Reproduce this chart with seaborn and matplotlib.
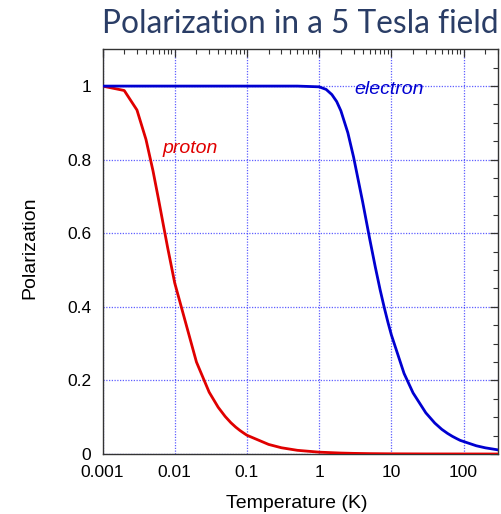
import numpy as np
import pandas as pd
import matplotlib
matplotlib.use("Agg")
import matplotlib.pyplot as plt
import seaborn as sns
from matplotlib.ticker import FixedLocator, NullFormatter, LogLocator

# ---- data ----
proton_T = [0.001, 0.002, 0.003, 0.004, 0.005, 0.006, 0.007, 0.008, 0.009,
            0.01, 0.02, 0.03, 0.04, 0.05, 0.06, 0.07, 0.08, 0.09,
            0.1, 0.2, 0.3, 0.5, 1, 2, 3, 5, 10, 30, 100, 300]
proton_P = [1.00, 0.988, 0.935, 0.855, 0.77, 0.69, 0.62, 0.56, 0.51,
            0.465, 0.25, 0.168, 0.127, 0.102, 0.085, 0.073, 0.064, 0.057,
            0.051, 0.026, 0.017, 0.010, 0.005, 0.0026, 0.0017, 0.001, 0.0005, 0.0002, 0.0001, 0.0]

electron_T = [0.001, 0.01, 0.1, 0.5, 1, 1.25, 1.5, 1.75, 2, 2.5, 3, 4, 5, 6, 7, 8, 9,
              10, 15, 20, 30, 40, 50, 60, 70, 80, 90, 100, 150, 200, 300]
electron_P = [1.0, 1.0, 1.0, 1.0, 0.998, 0.991, 0.977, 0.958, 0.933, 0.873, 0.807,
              0.686, 0.586, 0.508, 0.446, 0.397, 0.357, 0.324, 0.219, 0.166,
              0.112, 0.084, 0.067, 0.056, 0.048, 0.042, 0.037, 0.034, 0.0224,
              0.0168, 0.0112]

series_names = ["proton", "electron"]
series_colors = ["#e00000", "#0000d0"]
x_tick_vals = [0.001, 0.01, 0.1, 1, 10, 100]
x_tick_labels = ["0.001", "0.01", "0.1", "1", "10", "100"]
y_tick_vals = [0, 0.2, 0.4, 0.6, 0.8, 1.0]
y_tick_labels = ["0", "0.2", "0.4", "0.6", "0.8", "1"]
title_text = "Polarization in a 5 Tesla field"
x_label = "Temperature (K)"
y_label = "Polarization"

df = pd.concat([
    pd.DataFrame({"T": proton_T, "P": proton_P, "particle": "proton"}),
    pd.DataFrame({"T": electron_T, "P": electron_P, "particle": "electron"}),
], ignore_index=True)

sns.set_theme(style="white")
plt.rcParams["font.family"] = ["Liberation Sans", "DejaVu Sans"]

fig = plt.figure(figsize=(5.02, 5.14), dpi=100)
ax = fig.add_axes([102.5 / 502, 1 - 454 / 514, (498 - 102.5) / 502, (454 - 49.3) / 514])

sns.lineplot(data=df, x="T", y="P", hue="particle", hue_order=series_names,
             palette=dict(zip(series_names, series_colors)), sort=False,
             estimator=None, lw=2.0, legend=False, ax=ax, zorder=3)

ax.set_xscale("log")
ax.set_xlim(0.001, 300)
ax.set_ylim(0, 1.1)

ax.xaxis.set_major_locator(FixedLocator(x_tick_vals))
ax.set_xticklabels(x_tick_labels)
ax.xaxis.set_minor_locator(LogLocator(base=10, subs=np.arange(2, 10)))
ax.xaxis.set_minor_formatter(NullFormatter())
ax.set_yticks(y_tick_vals)
ax.set_yticklabels(y_tick_labels)
ax.yaxis.set_minor_locator(FixedLocator(np.arange(0, 1.1, 0.05)))

ax.tick_params(which="both", direction="in", top=True, right=True,
               color="#333333", labelsize=12.5, labelcolor="black")
ax.tick_params(which="major", length=6, width=0.9)
ax.tick_params(which="minor", length=3.5, width=0.8)
ax.tick_params(axis="x", which="major", pad=8)
ax.tick_params(axis="y", which="major", pad=8)

for s in ax.spines.values():
    s.set_color("#333333")
    s.set_linewidth(1.0)
    s.set_visible(True)

ax.grid(True, which="major", color="#2a2aff", linestyle=(0, (1, 1.2)), lw=0.9, alpha=0.75)
ax.set_axisbelow(True)

ax.set_xlabel(x_label, fontsize=14, color="black")
ax.set_ylabel(y_label, fontsize=14, color="black")
ax.xaxis.set_label_coords(0.49, -0.123)
ax.xaxis.label.set_va("center")
ax.yaxis.set_label_coords(-0.183, 0.51)
ax.yaxis.label.set_va("center")

ax.text(0.00687, 0.817, "proton", color="#e00000", style="italic", fontsize=14)
ax.text(3.1, 0.99, "electron", color="#0000d0", style="italic", fontsize=14, va="center")

fig.text(102 / 502, 1 - 33 / 514, title_text, fontsize=22.8, family=["Lato", "DejaVu Sans"],
         color="#2a3d66", ha="left", va="baseline")

fig.savefig("out.png", dpi=100)
